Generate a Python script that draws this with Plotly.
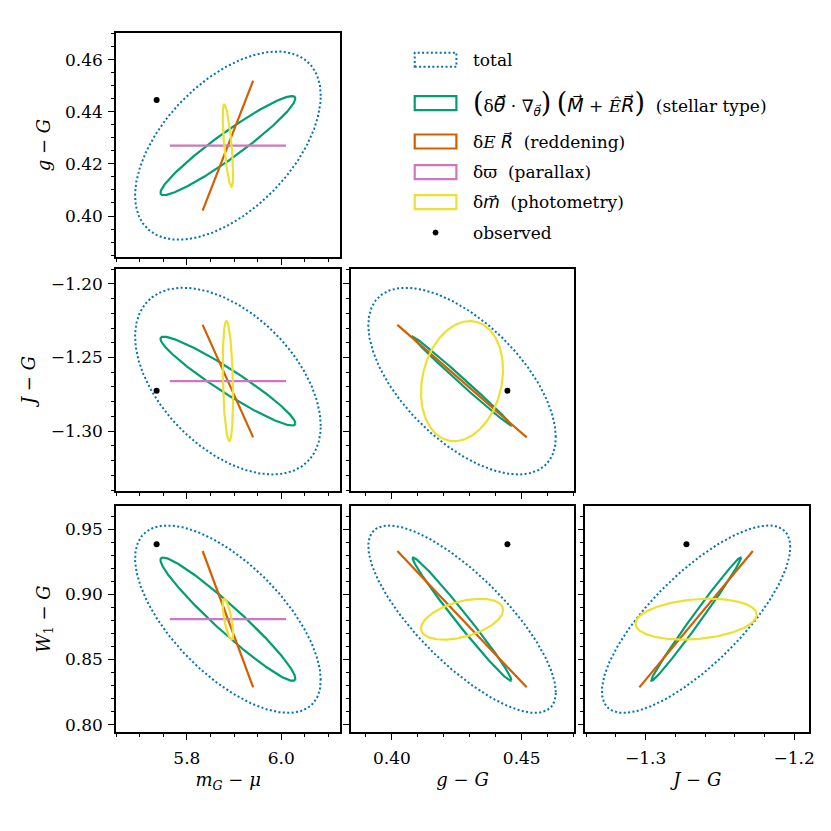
import numpy as np
import plotly.graph_objects as go

# ---------------- data ----------------
VAR_TITLES = ["<i>m</i><sub><i>G</i></sub> − <i>μ</i>", "<i>g</i> − <i>G</i>",
              "<i>J</i> − <i>G</i>", "<i>W</i><sub>1</sub> − <i>G</i>"]
MEAN = [5.887, 0.427, -1.266, 0.881]
OBSERVED = [5.736, 0.4445, -1.2725, 0.9385]
AXIS_RANGES = [[5.650, 6.125], [0.3842, 0.4702], [-1.3405, -1.1900], [0.7943, 0.9679]]

# panels: x variable, y variable, column, row
PANEL_X = [0, 0, 1, 0, 1, 2]
PANEL_Y = [1, 2, 2, 3, 3, 3]
PANEL_COL = [1, 1, 2, 1, 2, 3]
PANEL_ROW = [1, 2, 2, 3, 3, 3]

# tick settings for a variable on an x axis / y axis: (major, minor, format)
X_TICKS = {0: (0.2, 0.05, ".1f"), 1: (0.05, 0.01, ".2f"), 2: (0.1, 0.02, ".1f")}
Y_TICKS = {1: (0.02, 0.005, ".2f"), 2: (0.05, 0.01, ".2f"), 3: (0.05, 0.01, ".2f")}

# components: per-variable 1-sigma widths and per-panel correlations (panel order)
NAMES = ["total", "stellar type", "reddening", "parallax", "photometry"]
SIGMA_TOTAL = [0.1966, 0.0361, 0.0634, 0.0720]
RHO_TOTAL = [0.53, -0.48, -0.60, -0.65, -0.78, 0.77]
SIGMA_STELLAR = [0.1428, 0.0190, 0.0302, 0.0474]
RHO_STELLAR = [0.95, -0.95, -0.996, -0.96, -0.988, 0.992]
SIGMA_REDDENING = [0.0535, 0.0249, 0.0382, 0.0524]
RHO_REDDENING = [1.0, -1.0, -1.0, -1.0, -1.0, 1.0]
SIGMA_PARALLAX = [0.123, 0.0, 0.0, 0.0]
RHO_PARALLAX = [0.0, 0.0, 0.0, 0.0, 0.0, 0.0]
SIGMA_PHOTOMETRY = [0.011, 0.0158, 0.0408, 0.0157]
RHO_PHOTOMETRY = [-0.70, -0.27, 0.19, -0.70, 0.45, 0.22]

COMPONENTS = [
    (SIGMA_TOTAL, RHO_TOTAL, "#0173B2", "2px,2.4px", 2.0),
    (SIGMA_STELLAR, RHO_STELLAR, "#029E73", "solid", 2.2),
    (SIGMA_REDDENING, RHO_REDDENING, "#D55E00", "solid", 2.2),
    (SIGMA_PARALLAX, RHO_PARALLAX, "#CC78BC", "solid", 2.2),
    (SIGMA_PHOTOMETRY, RHO_PHOTOMETRY, "#ECE133", "solid", 2.2),
]


def vec(ch, size=None):
    # letter with a combining arrow, set in a font that has the arrow glyph
    sz = "" if size is None else "font-size:%dpx;" % size
    return "<span style=\"font-family:'DejaVu Sans';" + sz + "\"><i>" + ch + "\u20d7</i></span>"


def big(p):
    return "<span style=\"font-size:27px\">" + p + "</span>"


LEGEND_TEXT = [
    "total",
    big("(") + "δ" + vec("θ", 19) + " · ∇<sub>" + vec("θ") + "</sub>" + big(")") + " "
    + big("(") + vec("M", 19) + " + <i>Ê</i>" + vec("R", 19) + big(")") + "  (stellar type)",
    "δ<i>E</i> " + vec("R") + "  (reddening)",
    "δϖ  (parallax)",
    "δ" + vec("m") + "  (photometry)",
    "observed",
]

# ---------------- geometry (the page has an 8px body margin) ----------------
OFF = 8
W = H = 831 - 2 * OFF
COL_PX = {1: (116, 342), 2: (352.7, 577.7), 3: (589, 814.3)}
ROW_PX = {1: (33.3, 257.3), 2: (269.3, 490.7), 3: (506, 731.7)}
ML = COL_PX[1][0] - OFF
MT = ROW_PX[1][0] - OFF
MR = W - (COL_PX[3][1] - OFF)
MB = H - (ROW_PX[3][1] - OFF)
PW = W - ML - MR
PH = H - MT - MB


def px2x(px):
    return (px - OFF - ML) / PW


def py2y(py):
    return (H - MB - (py - OFF)) / PH


FONT = "DejaVu Serif, serif"
t = np.linspace(0, 2 * np.pi, 300)

fig = go.Figure()
layout = {}
for k in range(6):
    xi, yi = PANEL_X[k], PANEL_Y[k]
    col, row = PANEL_COL[k], PANEL_ROW[k]
    sfx = "" if k == 0 else str(k + 1)
    xa, ya = "x" + sfx, "y" + sfx
    for ci, (sig, rho, color, dash, lw) in enumerate(COMPONENTS):
        sx, sy, r = sig[xi], sig[yi], rho[k]
        ex = MEAN[xi] + sx * np.cos(t)
        ey = MEAN[yi] + sy * (r * np.cos(t) + np.sqrt(max(0.0, 1 - r * r)) * np.sin(t))
        fig.add_trace(go.Scatter(x=ex, y=ey, mode="lines", name=NAMES[ci],
                                 line=dict(color=color, width=lw, dash=dash),
                                 xaxis=xa, yaxis=ya, showlegend=False, hoverinfo="skip"))
    fig.add_trace(go.Scatter(x=[OBSERVED[xi]], y=[OBSERVED[yi]], mode="markers", name="observed",
                             marker=dict(color="black", size=6), xaxis=xa, yaxis=ya, showlegend=False))

    x0, x1 = COL_PX[col]
    y0, y1 = ROW_PX[row]
    xmaj, xmin, xfmt = X_TICKS[xi]
    ymaj, ymin, yfmt = Y_TICKS[yi]
    common = dict(showline=True, linecolor="black", linewidth=1.5, mirror=True,
                  ticks="outside", ticklen=6, tickwidth=1.3, tickcolor="black",
                  showgrid=False, zeroline=False,
                  tickfont=dict(family=FONT, size=17, color="black"))
    layout["xaxis" + sfx] = dict(common, domain=[px2x(x0), px2x(x1)], anchor=ya,
                                 range=AXIS_RANGES[xi], tick0=0, dtick=xmaj, tickformat=xfmt,
                                 ticklabelstandoff=4,
                                 minor=dict(dtick=xmin, tick0=0, ticks="outside", ticklen=3.5,
                                            tickwidth=1.1, tickcolor="black", showgrid=False),
                                 showticklabels=(row == 3),
                                 title=dict(text=VAR_TITLES[xi] if row == 3 else "",
                                            font=dict(family=FONT, size=18, color="black"),
                                            standoff=6))
    layout["yaxis" + sfx] = dict(common, domain=[py2y(y1), py2y(y0)], anchor=xa,
                                 range=AXIS_RANGES[yi], tick0=0, dtick=ymaj, tickformat=yfmt,
                                 ticklabelstandoff=2,
                                 minor=dict(dtick=ymin, tick0=0, ticks="outside", ticklen=3.5,
                                            tickwidth=1.1, tickcolor="black", showgrid=False),
                                 showticklabels=(col == 1),
                                 title=dict(text=VAR_TITLES[yi] if col == 1 else "",
                                            font=dict(family=FONT, size=18, color="black"),
                                            standoff=10))

# ---------------- legend (patches + text) ----------------
LEG_Y = [60, 103.3, 141.7, 172.3, 202.3, 232.7]
shapes = []
annotations = []
for i in range(6):
    yc = LEG_Y[i]
    if i < 5:
        sig, rho, color, dash, lw = COMPONENTS[i]
        shapes.append(dict(type="rect", xref="paper", yref="paper",
                           x0=px2x(417), x1=px2x(459), y0=py2y(yc + 7), y1=py2y(yc - 7),
                           line=dict(color=color, width=lw, dash=dash),
                           fillcolor="rgba(0,0,0,0)"))
    else:
        shapes.append(dict(type="circle", xref="paper", yref="paper",
                           x0=px2x(435.5), x1=px2x(440.5), y0=py2y(yc + 2.5), y1=py2y(yc - 2.5),
                           line=dict(color="black", width=1), fillcolor="black"))
    annotations.append(dict(text=LEGEND_TEXT[i], xref="paper", yref="paper",
                            x=px2x(474), y=py2y(yc), xanchor="left", yanchor="middle",
                            showarrow=False, font=dict(family=FONT, size=17, color="black")))

fig.update_layout(**layout)
fig.update_layout(width=W, height=H, margin=dict(l=ML, r=MR, t=MT, b=MB),
                  plot_bgcolor="rgba(0,0,0,0)", paper_bgcolor="white",
                  shapes=shapes, annotations=annotations, showlegend=False,
                  font=dict(family=FONT, color="black"))
fig.write_html("out.html")
